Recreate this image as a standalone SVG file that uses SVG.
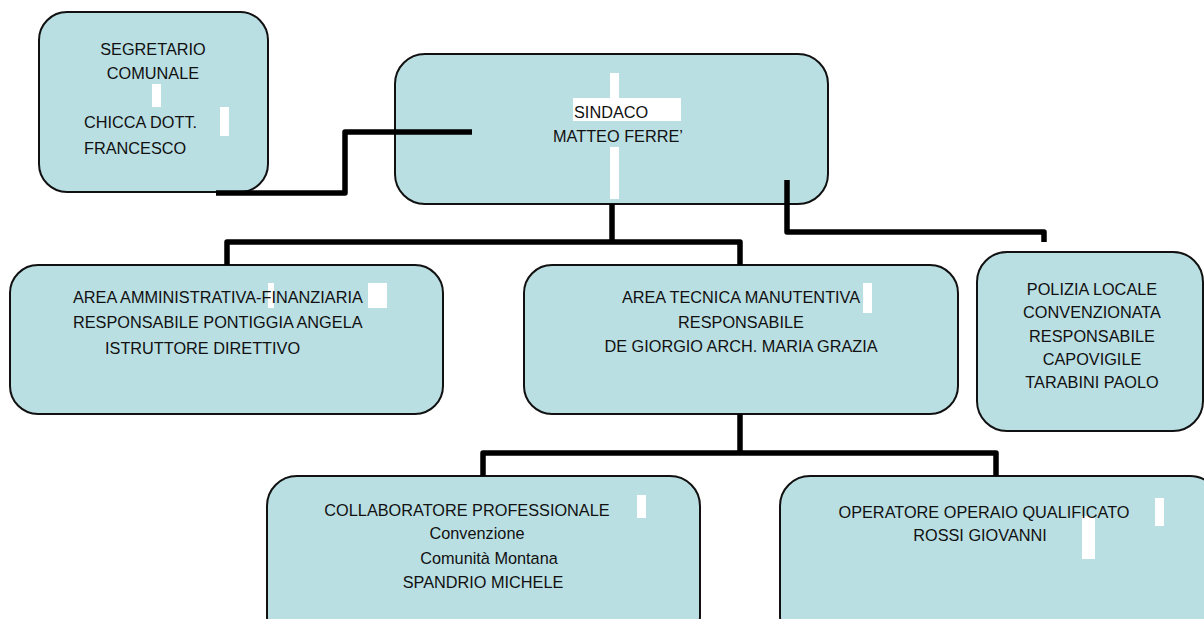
<svg xmlns="http://www.w3.org/2000/svg" width="1204" height="619" viewBox="0 0 1204 619">
<style>
.box{fill:#BADFE3;stroke:#111;stroke-width:2}
.t{font-family:"Liberation Sans",Arial,sans-serif;font-size:16.3px;fill:#111}
.c{text-anchor:middle}
.w{fill:#fff}
.con{fill:none;stroke:#000;stroke-width:5.5;stroke-linejoin:round}
</style>
<rect width="1204" height="619" fill="#fff"/>
<g id="node-segretario">
<rect class="box" x="39" y="12" width="229" height="180" rx="28"/>
<rect class="w" x="152" y="84" width="9" height="23"/>
<rect class="w" x="220" y="107" width="9" height="29"/>
<text class="t c" x="153" y="55" font-size="15.5">SEGRETARIO</text>
<text class="t c" x="153" y="79" font-size="15.5">COMUNALE</text>
<text class="t" x="84" y="128" font-size="15.8">CHICCA DOTT.</text>
<text class="t" x="84" y="154" font-size="14.3">FRANCESCO</text>
</g>
<g id="node-sindaco">
<rect class="box" x="395" y="54" width="433" height="150" rx="30"/>
<rect class="w" x="610" y="73" width="9" height="25"/>
<rect class="w" x="573" y="98" width="108" height="23"/>
<rect class="w" x="610" y="147" width="9" height="52"/>
<text class="t" x="574" y="118">SINDACO</text>
<text class="t" x="553" y="142">MATTEO FERRE’</text>
</g>
<g id="node-area-amministrativa">
<rect class="box" x="10" y="265" width="433" height="149" rx="28"/>
<rect class="w" x="268" y="283" width="6" height="25"/>
<rect class="w" x="368" y="283" width="19" height="25"/>
<text class="t" x="73" y="303">AREA AMMINISTRATIVA-FINANZIARIA</text>
<text class="t" x="73" y="328">RESPONSABILE PONTIGGIA ANGELA</text>
<text class="t" x="105" y="354">ISTRUTTORE DIRETTIVO</text>
</g>
<g id="node-area-tecnica">
<rect class="box" x="524" y="265" width="434" height="149" rx="28"/>
<rect class="w" x="863" y="283" width="9" height="30"/>
<text class="t c" x="741" y="303">AREA TECNICA MANUTENTIVA</text>
<text class="t c" x="741" y="328">RESPONSABILE</text>
<text class="t c" x="741" y="352">DE GIORGIO ARCH. MARIA GRAZIA</text>
</g>
<g id="node-polizia">
<rect class="box" x="977" y="252" width="226" height="179" rx="30"/>
<text class="t c" x="1092" y="295">POLIZIA LOCALE</text>
<text class="t c" x="1092" y="318">CONVENZIONATA</text>
<text class="t c" x="1092" y="342">RESPONSABILE</text>
<text class="t c" x="1092" y="365">CAPOVIGILE</text>
<text class="t c" x="1092" y="388">TARABINI PAOLO</text>
</g>
<g id="node-collaboratore">
<rect class="box" x="267" y="476" width="433" height="170" rx="30"/>
<rect class="w" x="637" y="495" width="9" height="23"/>
<text class="t c" x="467" y="516">COLLABORATORE PROFESSIONALE</text>
<text class="t c" x="477" y="539">Convenzione</text>
<text class="t c" x="489" y="564">Comunità Montana</text>
<text class="t c" x="483" y="588">SPANDRIO MICHELE</text>
</g>
<g id="node-operatore">
<rect class="box" x="780" y="476" width="440" height="170" rx="30"/>
<rect class="w" x="1155" y="498" width="9" height="28"/>
<rect class="w" x="1082" y="516" width="13" height="43"/>
<text class="t c" x="984" y="518">OPERATORE OPERAIO QUALIFICATO</text>
<text class="t c" x="980" y="541">ROSSI GIOVANNI</text>
</g>
<g id="connectors">
<polyline class="con" points="216,193 345,193 345,132 472,132"/>
<polyline class="con" points="612,204 612,242"/>
<polyline class="con" points="227,265 227,242 740,242 740,265"/>
<polyline class="con" points="787,180 787,232 1044,232 1044,242"/>
<polyline class="con" points="740,414 740,453"/>
<polyline class="con" points="483,476 483,453 996,453 996,476"/>
</g>
</svg>
